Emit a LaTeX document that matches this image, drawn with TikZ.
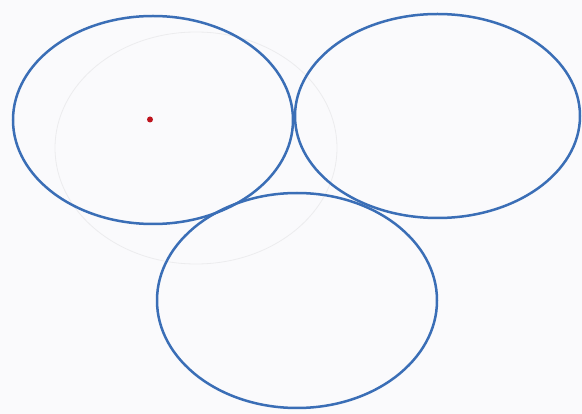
\documentclass[tikz,border=0pt]{standalone}
\definecolor{ink}{RGB}{58,110,182}
\definecolor{paper}{RGB}{250,250,252}
\definecolor{pencil}{RGB}{236,236,238}
\definecolor{dotred}{RGB}{190,20,30}
\tikzset{
  ring/.style={draw=ink, line width=2.5pt},
  faint/.style={draw=pencil, line width=0.8pt},
}
\begin{document}
\begin{tikzpicture}[x=1pt,y=-1pt]
  \fill[paper] (0,0) rectangle (582,414);
  \useasboundingbox (0,0) rectangle (582,414);
  % faint pencil trace
  \draw[faint] (196,148) ellipse [x radius=141, y radius=116];
  % three rings
  \draw[ring] (153,120) ellipse [x radius=140, y radius=104];
  \draw[ring] (437.5,116) ellipse [x radius=142.5, y radius=102];
  \draw[ring] (297,300.5) ellipse [x radius=140, y radius=107.5];
  % red dot
  \fill[dotred] (150,119.5) circle [radius=3];
\end{tikzpicture}
\end{document}
